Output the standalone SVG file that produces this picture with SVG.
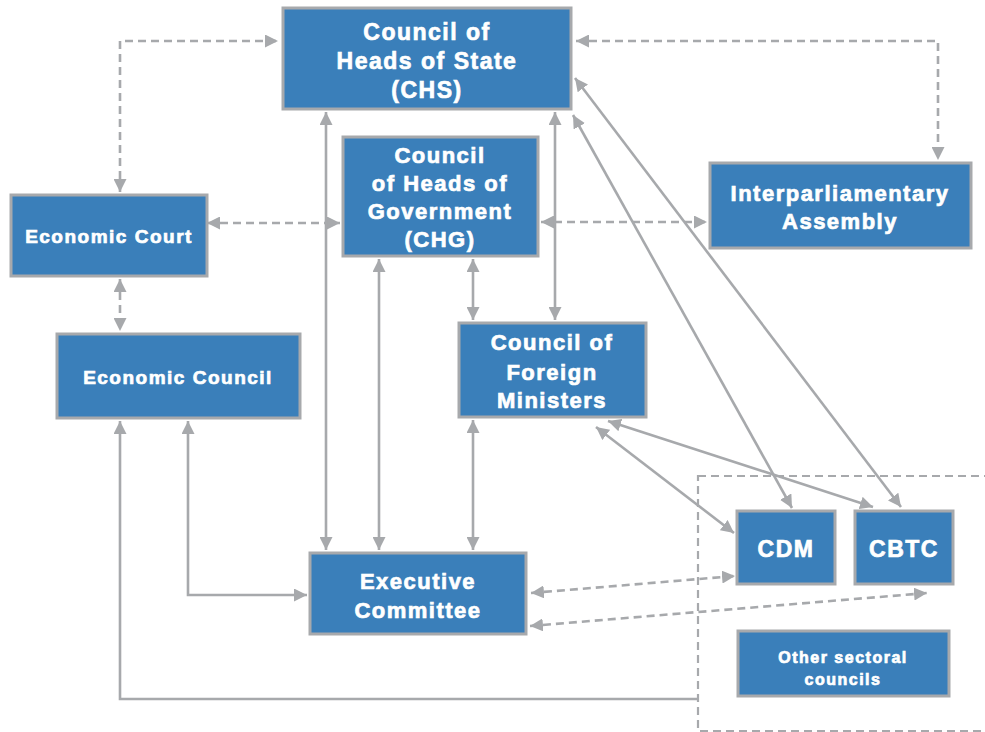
<svg xmlns="http://www.w3.org/2000/svg" width="985" height="732" viewBox="0 0 985 732">
<defs>
<marker id="ah" viewBox="0 0 10 10" refX="10" refY="5" markerWidth="13" markerHeight="13" markerUnits="userSpaceOnUse" orient="auto-start-reverse">
<path d="M0,0 L10,5 L0,10 z" fill="#a7a9ac"/>
</marker>
<style>
.box{fill:#3a7fba;stroke:#a7a9ac;stroke-width:3}
.t{fill:#ffffff;stroke:#ffffff;stroke-width:0.7;font-family:"Liberation Sans",Arial,sans-serif;font-weight:bold;text-anchor:middle;letter-spacing:1.5px}
.l{fill:none;stroke:#a7a9ac;stroke-width:2.6}
.d{fill:none;stroke:#a7a9ac;stroke-width:2.6;stroke-dasharray:8 5}
.a{marker-start:url(#ah);marker-end:url(#ah)}
.e{marker-end:url(#ah)}
.s{marker-start:url(#ah)}
</style>
</defs>
<rect width="985" height="732" fill="#ffffff"/>
<rect x="698" y="476" width="300" height="255" fill="none" stroke="#a7a9ac" stroke-width="2.2" stroke-dasharray="8 5"/>
<g id="connectors">
<polyline class="d a" points="120,192 120,41 278,41"/>
<polyline class="d a" points="576,41 938,41 938,160"/>
<line class="d a" x1="207" y1="223" x2="340" y2="223"/>
<line class="d a" x1="541" y1="222" x2="707" y2="222"/>
<line class="d a" x1="120" y1="279" x2="120" y2="331"/>
<line class="l a" x1="326" y1="112" x2="326" y2="550"/>
<line class="l a" x1="379" y1="259" x2="379" y2="550"/>
<line class="l a" x1="555" y1="112" x2="555" y2="320"/>
<line class="l a" x1="473" y1="259" x2="473" y2="320"/>
<line class="l a" x1="473" y1="420" x2="473" y2="550"/>
<polyline class="l a" points="188,421 188,595 307,595"/>
<polyline class="l s" points="120,421 120,699 697,699"/>
<line class="l a" x1="573" y1="115" x2="792" y2="508"/>
<line class="l a" x1="575" y1="78" x2="901" y2="507"/>
<line class="l a" x1="596" y1="427" x2="734" y2="533"/>
<line class="l a" x1="608" y1="421" x2="873" y2="507"/>
<line class="d a" x1="531" y1="593" x2="735" y2="576"/>
<line class="d a" x1="530" y1="626" x2="927" y2="593"/>
</g>
<g id="chs">
<rect class="box" x="283" y="8" width="288" height="101"/>
<text class="t" font-size="23" x="427" y="40">Council of</text>
<text class="t" font-size="23" x="427" y="69">Heads of State</text>
<text class="t" font-size="23" x="427" y="98">(CHS)</text>
</g>
<g id="chg">
<rect class="box" x="343" y="137" width="195" height="119"/>
<text class="t" font-size="22" x="440" y="163">Council</text>
<text class="t" font-size="22" x="440" y="191">of Heads of</text>
<text class="t" font-size="22" x="440" y="219">Government</text>
<text class="t" font-size="22" x="440" y="247">(CHG)</text>
</g>
<g id="ecourt">
<rect class="box" x="11" y="195" width="196" height="81"/>
<text class="t" font-size="19" x="109" y="243">Economic Court</text>
</g>
<g id="ecouncil">
<rect class="box" x="57" y="334" width="243" height="84"/>
<text class="t" font-size="19" x="178" y="384">Economic Council</text>
</g>
<g id="ipa">
<rect class="box" x="710" y="163" width="261" height="85"/>
<text class="t" font-size="22" x="840" y="201">Interparliamentary</text>
<text class="t" font-size="22" x="840" y="229">Assembly</text>
</g>
<g id="cfm">
<rect class="box" x="459" y="323" width="187" height="94"/>
<text class="t" font-size="22" x="552" y="350">Council of</text>
<text class="t" font-size="22" x="552" y="380">Foreign</text>
<text class="t" font-size="22" x="552" y="408">Ministers</text>
</g>
<g id="exec">
<rect class="box" x="310" y="553" width="216" height="81"/>
<text class="t" font-size="22" x="418" y="589">Executive</text>
<text class="t" font-size="22" x="418" y="618">Committee</text>
</g>
<g id="cdm">
<rect class="box" x="737" y="511" width="98" height="73"/>
<text class="t" font-size="23" x="786" y="557">CDM</text>
</g>
<g id="cbtc">
<rect class="box" x="855" y="511" width="98" height="73"/>
<text class="t" font-size="23" x="904" y="557">CBTC</text>
</g>
<g id="other">
<rect class="box" x="738" y="631" width="211" height="65"/>
<text class="t" font-size="16" x="843" y="663">Other sectoral</text>
<text class="t" font-size="16" x="843" y="685">councils</text>
</g>
</svg>
